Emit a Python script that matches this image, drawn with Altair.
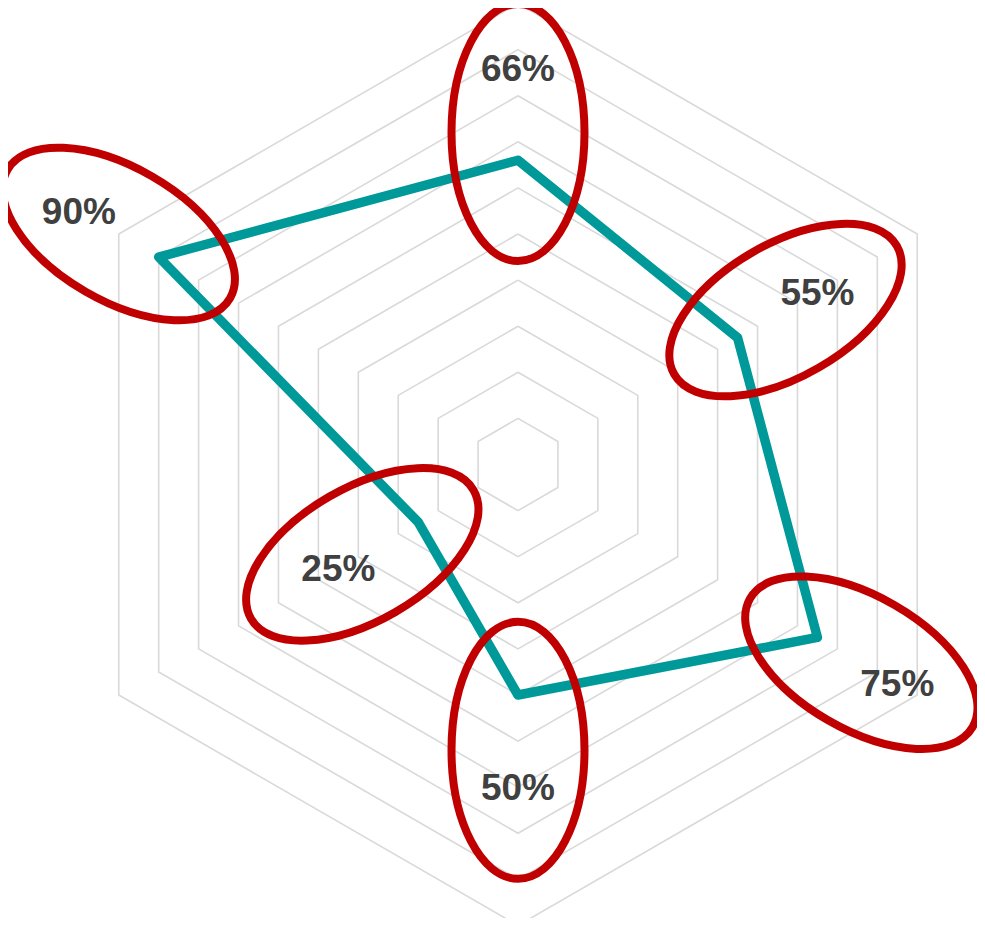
import math
import altair as alt
import pandas as pd

# ---- data ----
values = [66, 55, 75, 50, 25, 90]            # clockwise from top
labels = ["66%", "55%", "75%", "50%", "25%", "90%"]
ring_levels = [10, 20, 30, 40, 50, 60, 70, 80, 90, 100]
highlight_r = [72, 67, 86, 62, 39, 100]      # centre of each red highlight ring (data units)
label_offset = 20

n = len(values)
angles = [i * 360 / n for i in range(n)]

def px(r, a):
    return r * math.sin(math.radians(a))

def py(r, a):
    return r * math.cos(math.radians(a))

grid_rows = []
for lvl in ring_levels:
    for j in range(n + 1):
        a = angles[j % n]
        grid_rows.append({"ring": lvl, "ord": j, "x": px(lvl, a), "y": py(lvl, a)})
grid_df = pd.DataFrame(grid_rows)

line_rows = []
for j in range(n + 1):
    i = j % n
    line_rows.append({"ord": j, "x": px(values[i], angles[i]), "y": py(values[i], angles[i])})
line_df = pd.DataFrame(line_rows)

lab_df = pd.DataFrame({
    "label": labels,
    "x": [px(v + label_offset, a) for v, a in zip(values, angles)],
    "y": [py(v + label_offset, a) for v, a in zip(values, angles)],
})

ell_df = pd.DataFrame({
    "x": [px(r, a) for r, a in zip(highlight_r, angles)],
    "y": [py(r, a) for r, a in zip(highlight_r, angles)],
    "ang": angles,
})

# ---- layout ----
K = 4.61          # px per percent
W, H = 969, 910
cx, cy = 518 - 8, 464.5 - 8
xmin = -cx / K
xmax = xmin + W / K
ymax = cy / K
ymin = ymax - H / K

xs = alt.Scale(domain=[xmin, xmax], nice=False, zero=False)
ys = alt.Scale(domain=[ymin, ymax], nice=False, zero=False)
X = alt.X("x:Q", scale=xs, axis=None)
Y = alt.Y("y:Q", scale=ys, axis=None)

grid = alt.Chart(grid_df).mark_line(color="#D9D9D9", strokeWidth=1.6, clip=False).encode(
    x=X, y=Y, detail="ring:N", order="ord:Q"
)

line = alt.Chart(line_df).mark_line(
    color="#009999", strokeWidth=9.5, strokeJoin="round", strokeCap="round", clip=False
).encode(x=X, y=Y, order="ord:Q")

# ellipse outline path (cubic Bezier approximation), long axis vertical
k = 0.5523
bx = 66.5 / 128.5
kb = k * bx
ell_path = (
    f"M 0 -1 C {kb:.4f} -1 {bx:.4f} -{k} {bx:.4f} 0 "
    f"C {bx:.4f} {k} {kb:.4f} 1 0 1 "
    f"C -{kb:.4f} 1 -{bx:.4f} {k} -{bx:.4f} 0 "
    f"C -{bx:.4f} -{k} -{kb:.4f} -1 0 -1 Z"
)

ellipses = alt.Chart(ell_df).mark_point(
    shape=ell_path, filled=False, color="#C00000", strokeWidth=8,
    size=(2 * 128.5) ** 2, opacity=1, clip=False
).encode(x=X, y=Y, angle=alt.Angle("ang:Q", scale=None))

text = alt.Chart(lab_df).mark_text(
    font="Liberation Sans", fontSize=37, fontWeight="bold", color="#404040",
    align="center", baseline="middle", dy=2, clip=False
).encode(x=X, y=Y, text="label:N")

chart = alt.layer(grid, line, ellipses, text).properties(
    width=W, height=H, padding=0, background="white",
    autosize=alt.AutoSizeParams(type="none")
).configure_view(stroke=None)

chart.save("out.html", embed_options={"renderer": "svg", "actions": False})
